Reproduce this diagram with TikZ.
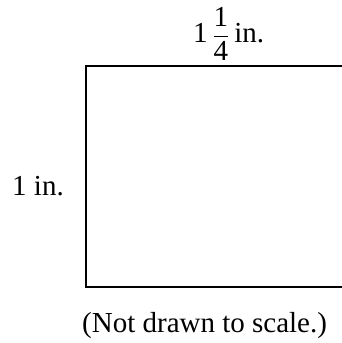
\documentclass[tikz,border=0pt]{standalone}
\usepackage{amsmath}
\usepackage{fontspec}
\setmainfont{Liberation Serif}
\begin{document}
\begin{tikzpicture}[x=1pt,y=1pt,
  lbl/.style={anchor=base west,inner sep=0pt,font=\fontsize{29}{34}\selectfont},
  edge/.style={line width=1.7pt}]
\useasboundingbox (0,0) rectangle (342,343);
\clip (0,0) rectangle (342,343);
\coordinate (tr) at (350,277);
\coordinate (tl) at (86,277);
\coordinate (bl) at (86,56);
\coordinate (br) at (350,56);
\draw[edge] (tr) -- (tl) -- (bl) -- (br);
\node[lbl] (top) at (193,300) {1\,$\dfrac{\text{1}}{\text{4}}$\,in.};
\node[lbl] (left) at (12,147) {1 in.};
\node[lbl] (note) at (82,10) {(Not drawn to scale.)};
\end{tikzpicture}
\end{document}
